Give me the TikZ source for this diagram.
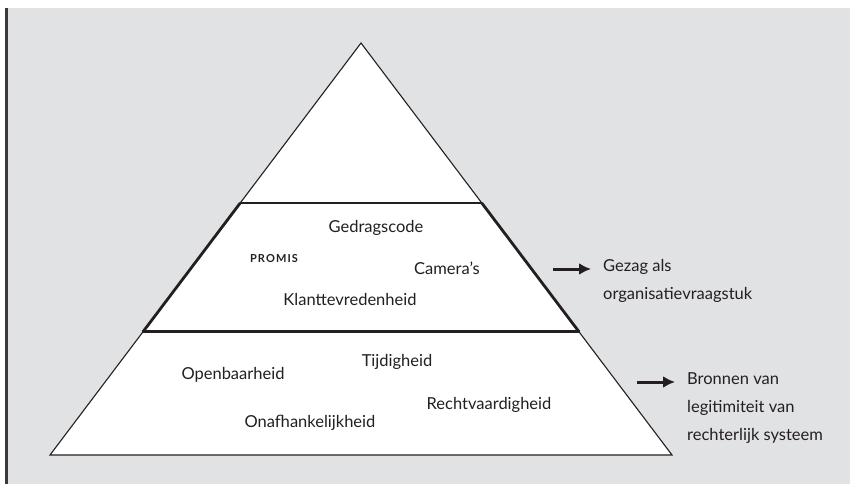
\documentclass[tikz,border=0pt]{standalone}
\usepackage{fontspec}
\setmainfont{Lato}
\usetikzlibrary{calc,arrows.meta}
\definecolor{panel}{HTML}{E1E2E4}
\definecolor{ink}{HTML}{231F20}
\definecolor{barc}{HTML}{3A3A3C}
\tikzset{
  lbl/.style={inner sep=0pt, text=ink, font=\fontsize{16.5}{28}\selectfont},
  side/.style={lbl, anchor=west, align=left},
  pointer/.style={ink, line width=3pt, -{Latex[length=12pt,width=12pt]}},
  thinedge/.style={ink, line width=1.1pt, line join=miter},
  thickedge/.style={ink, line width=2.8pt, line join=miter},
}
\begin{document}
\begin{tikzpicture}[x=1pt,y=-1pt]
  \useasboundingbox (0,0) rectangle (850,484);
  % panel and left rule
  \fill[panel] (8,8) rectangle (850,484);
  \fill[barc] (5,8) rectangle (8,484);

  % pyramid corners
  \coordinate (apex) at (361,43);
  \coordinate (bl) at (50,455);
  \coordinate (br) at (672,455);
  \coordinate (ml) at ($(apex)!0.3883!(bl)$);
  \coordinate (mr) at ($(apex)!0.3883!(br)$);
  \coordinate (ll) at ($(apex)!0.7002!(bl)$);
  \coordinate (lr) at ($(apex)!0.7002!(br)$);

  \fill[white] (apex) -- (br) -- (bl) -- cycle;
  \draw[thinedge] (apex) -- (br) -- (bl) -- cycle;
  % middle layer
  \draw[ink, line width=2pt] (ml) -- (mr);
  \draw[thickedge] (ml) -- (ll);
  \draw[thickedge] (mr) -- (lr);
  \draw[ink, line width=2.4pt, line cap=rect] (ll) -- (lr);

  % middle layer labels
  \node[lbl] (gedrag) at (376,228) {Gedragscode};
  \node[lbl, font=\fontsize{11}{13}\selectfont\bfseries\addfontfeature{LetterSpace=10}] (promis) at (274,259) {PROMIS};
  \node[lbl] (camera) at (447,268) {Camera’s};
  \node[lbl] (klant) at (350,299) {Klanttevredenheid};

  % bottom layer labels
  \node[lbl] (open) at (233,375) {Openbaarheid};
  \node[lbl] (tijd) at (397,362) {Tijdigheid};
  \node[lbl] (onaf) at (310,423) {Onafhankelijkheid};
  \node[lbl] (recht) at (489,405) {Rechtvaardigheid};

  % side notes
  \node[side] (gezag) at (603,281) {Gezag als\\organisatievraagstuk};
  \node[side] (bronnen) at (687,408) {Bronnen van\\legitimiteit van\\rechterlijk systeem};
  \coordinate (p1) at (553,269);
  \coordinate (p2) at (637,382);
  \draw[pointer] (p1) -- (591,269);
  \draw[pointer] (p2) -- (675,382);
\end{tikzpicture}
\end{document}
